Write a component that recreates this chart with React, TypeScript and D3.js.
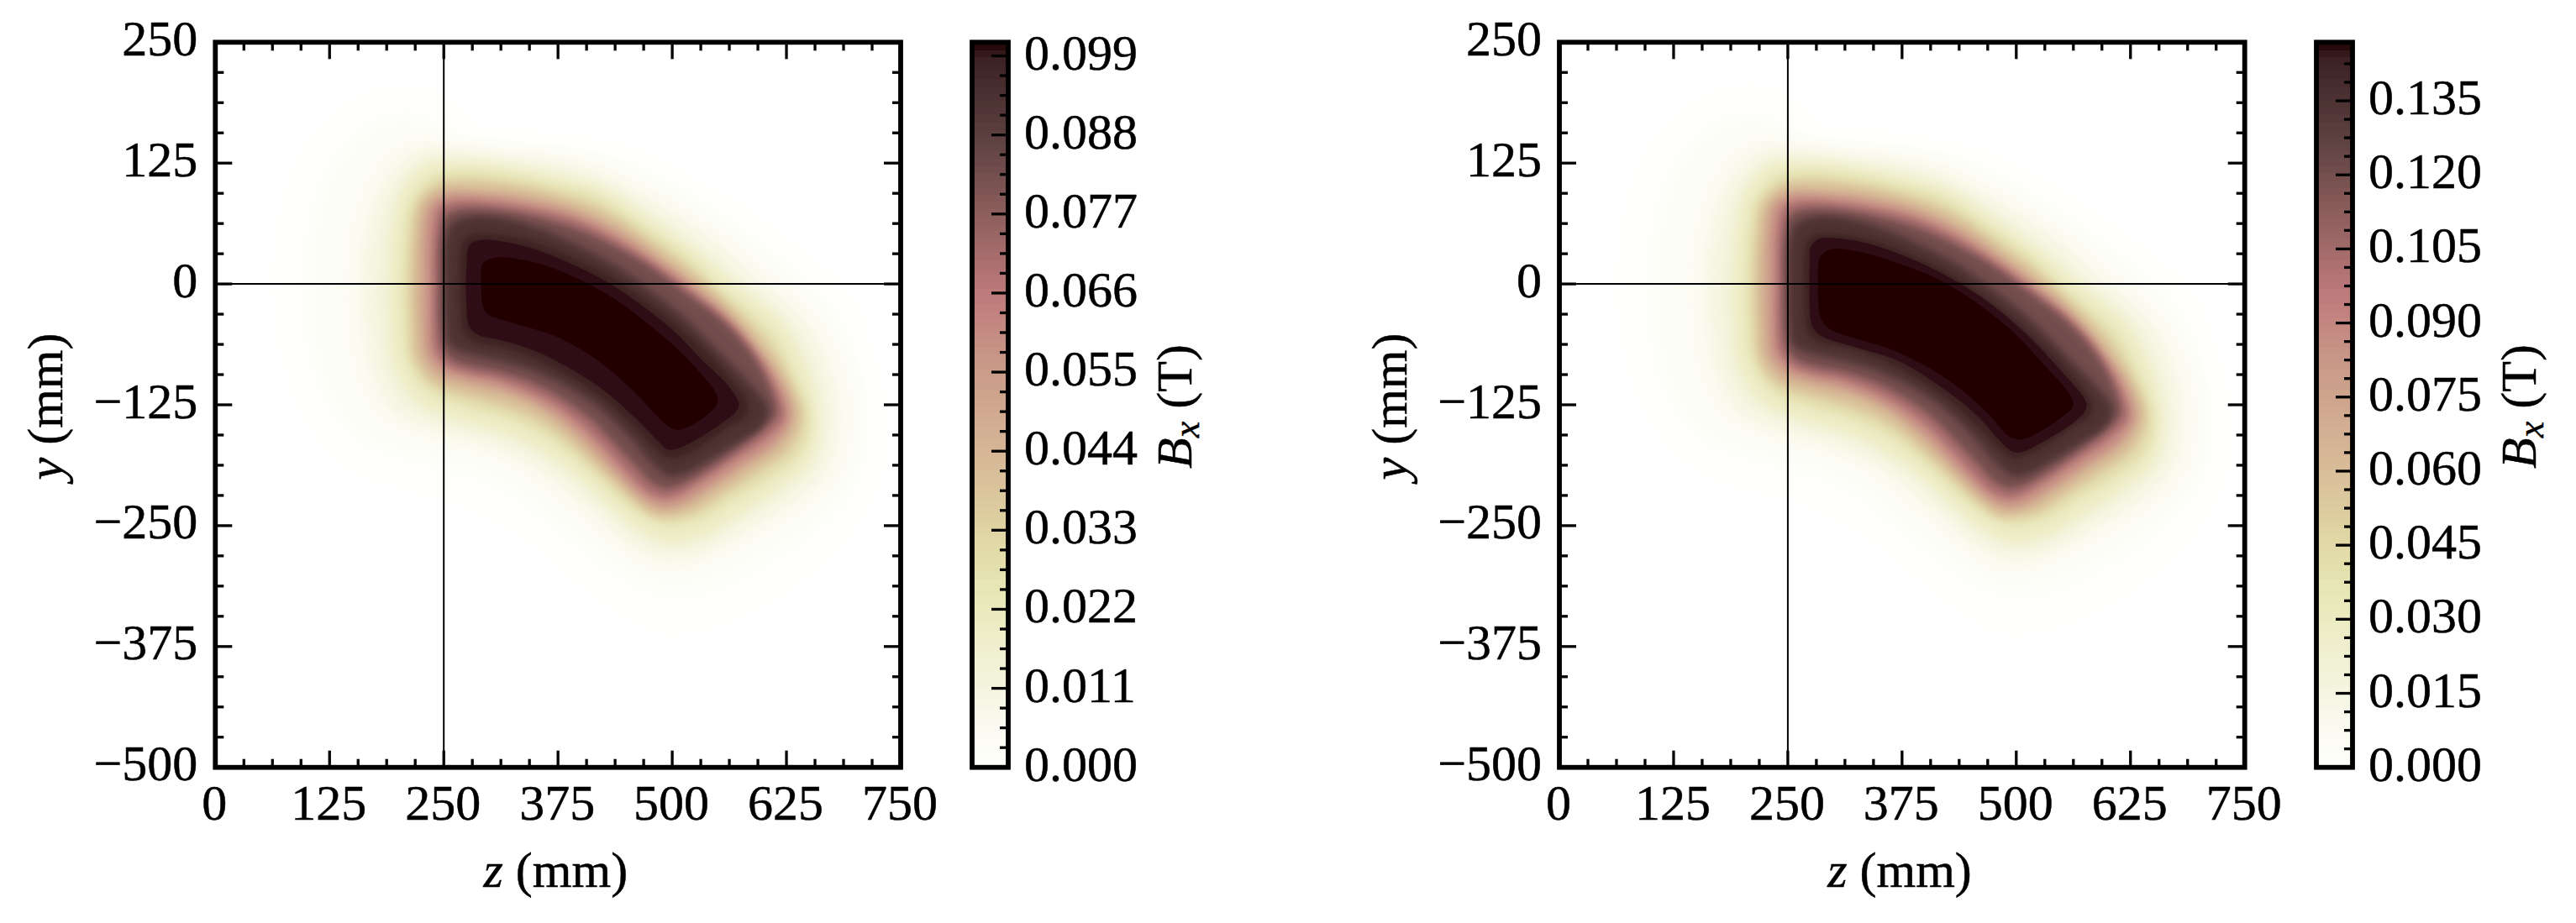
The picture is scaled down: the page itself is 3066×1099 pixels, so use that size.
import { useEffect, useRef } from 'react';
import * as d3 from 'd3';

type Pt = [number, number];

const zTicks = [0, 125, 250, 375, 500, 625, 750];
const yTicks = [-500, -375, -250, -125, 0, 125, 250];
const leftBarTicks = [0, 0.011, 0.022, 0.033, 0.044, 0.055, 0.066, 0.077, 0.088, 0.099];
const rightBarTicks = [0, 0.015, 0.03, 0.045, 0.06, 0.075, 0.09, 0.105, 0.12, 0.135];
const leftBarMax = 0.1009;
const rightBarMax = 0.14686;

// colour map
const cmapStops = [0, 0.05, 0.11, 0.18, 0.25, 0.33, 0.44, 0.55, 0.65, 0.76, 0.87, 0.95, 0.98, 0.99, 1];
const cmapColors = ['#fffffc', '#fbfbf2', '#f4f4e0', '#eeeeca', '#e6e6b4', '#dfd3a2', '#d6b596', '#c99b88', '#c07a7c', '#8e5f5d', '#5c4040', '#452a2b', '#3a2022', '#2e1012', '#240405'];

// iso-lines of the field (z mm, y mm). Level = fraction of colour range
const ring005: Pt[] = [[74,1],[80,-55],[100,-120],[150,-180],[220,-205],[290,-225],[340,-250],[385,-285],[430,-320],[490,-352],[540,-345],[600,-320],[670,-270],[715,-205],[724,-135],[710,-78],[685,-15],[640,22],[585,62],[520,100],[460,128],[400,140],[335,148],[280,152],[240,190],[175,190],[110,140],[80,60]];
const ring015: Pt[] = [[105,1],[108,-50],[122,-105],[160,-155],[220,-175],[280,-190],[325,-208],[360,-235],[395,-262],[425,-282],[460,-300],[500,-310],[530,-308],[585,-285],[650,-250],[697,-200],[707,-132],[697,-78],[670,-25],[625,15],[572,55],[510,95],[450,122],[395,135],[330,142],[275,147],[200,170],[140,130],[112,55]];
const ring04: Pt[] = [[144,1],[147,-45],[157,-95],[185,-140],[240,-160],[290,-173],[330,-190],[362,-212],[395,-236],[425,-260],[455,-283],[495,-298],[543,-282],[590,-262],[640,-235],[685,-195],[696,-132],[685,-80],[655,-30],[610,8],[560,48],[500,85],[442,115],[390,130],[328,137],[272,142],[215,148],[170,110],[150,52]];
const ring08: Pt[] = [[166,1],[168,-43],[176,-88],[200,-130],[250,-152],[295,-163],[335,-178],[368,-197],[400,-221],[428,-245],[458,-268],[495,-282],[535,-276],[580,-252],[625,-226],[665,-192],[677,-135],[666,-85],[640,-38],[590,2],[545,40],[490,75],[435,105],[385,122],[325,130],[270,136],[222,135],[188,100],[170,50]];
const ring15: Pt[] = [[189,1],[190,-43],[196,-86],[220,-122],[262,-140],[300,-150],[340,-165],[372,-183],[405,-207],[432,-231],[460,-253],[495,-268],[535,-260],[575,-238],[620,-210],[652,-182],[660,-138],[650,-92],[622,-42],[570,0],[528,33],[478,66],[428,97],[378,111],[322,122],[268,127],[228,122],[203,95],[192,48]];
const ring25: Pt[] = [[206,1],[207,-43],[212,-80],[233,-109],[268,-124],[307,-134],[346,-148],[378,-167],[410,-192],[436,-215],[462,-235],[494,-248],[530,-242],[565,-222],[607,-199],[640,-174],[650,-138],[635,-97],[605,-48],[552,-5],[515,28],[468,59],[417,89],[372,101],[320,111],[268,115],[239,110],[215,85],[208,47]];
const ring35: Pt[] = [[214,1],[215,-43],[219,-78],[238,-102],[271,-114],[307,-123],[342,-135],[373,-152],[405,-178],[431,-201],[455,-222],[478,-239],[491,-241],[522,-236],[553,-218],[592,-195],[628,-170],[642,-138],[630,-103],[602,-60],[558,-18],[519,15],[475,45],[430,73],[383,90],[330,101],[278,106],[246,103],[223,84],[216,48]];
const ring45: Pt[] = [[222,1],[223,-43],[227,-75],[243,-95],[275,-105],[307,-112],[339,-122],[368,-138],[401,-164],[427,-188],[449,-209],[468,-225],[489,-234],[514,-230],[543,-214],[578,-192],[617,-167],[634,-139],[626,-109],[600,-72],[565,-32],[524,1],[482,31],[442,57],[394,78],[339,91],[288,96],[252,96],[231,83],[224,50]];
const ring55: Pt[] = [[231,1],[231,-43],[234,-71],[248,-88],[275,-98],[307,-105],[339,-116],[370,-132],[402,-156],[428,-181],[450,-203],[470,-220],[488,-228],[509,-225],[537,-210],[572,-188],[611,-163],[628,-138],[620,-109],[596,-72],[562,-35],[521,-2],[478,28],[439,52],[391,73],[339,85],[289,91],[257,91],[238,81],[231,50]];
const ring65: Pt[] = [[238,1],[238,-43],[241,-69],[252,-83],[275,-92],[307,-98],[339,-109],[372,-125],[404,-148],[430,-173],[452,-196],[472,-214],[488,-221],[504,-219],[530,-205],[565,-183],[604,-158],[622,-138],[614,-109],[591,-72],[559,-37],[517,-5],[475,24],[436,47],[388,68],[339,79],[291,85],[262,85],[246,79],[239,50],[238,27]];
const ring72: Pt[] = [[245,1],[245,-43],[249,-66],[258,-78],[277,-85],[308,-91],[342,-101],[376,-117],[410,-140],[436,-165],[458,-187],[476,-205],[491,-212],[505,-210],[532,-196],[565,-175],[600,-150],[614,-134],[607,-107],[586,-71],[555,-38],[515,-9],[473,20],[434,41],[388,60],[339,72],[291,78],[265,77],[252,71],[246,48],[245,27]];
const ring80: Pt[] = [[251,1],[252,44],[260,63],[285,70],[314,68],[352,58],[394,41],[436,20],[478,-8],[517,-38],[556,-75],[585,-103],[605,-130],[598,-147],[572,-164],[539,-183],[514,-196],[496,-198],[478,-185],[452,-157],[420,-128],[385,-106],[346,-89],[310,-79],[278,-72],[257,-63],[252,-37]];
const ring90: Pt[] = [[267.5,-1],[269,38.5],[275,48.6],[288,52],[314,50.7],[349,43.7],[388,29],[430,9.5],[468,-15],[507,-44],[543,-76],[570,-105],[583,-124],[580,-137],[562,-148],[530,-169],[507,-179],[496,-180],[483,-171.5],[455.5,-145.5],[423,-118],[388,-96],[349,-77],[314,-66],[285,-60],[272,-50],[268,-28]];

// two inner plateaus differ per panel
const leftRing95: Pt[] = [[278,40],[288,45],[314,44],[346,37],[385,22.6],[423,5],[462,-19],[501,-48],[533,-79],[562,-106],[573,-124],[570,-132],[555.5,-143],[526.5,-161],[507,-170],[496,-171.5],[486,-164],[459,-138],[426.5,-111],[391,-89],[352,-70],[314,-58.5],[288,-53],[278,-44],[275,-25],[275,21]];
const leftRing100: Pt[] = [[292.6,21],[307,27.5],[333,25.5],[365,18],[404,2.3],[436,-15],[468,-37],[501,-63],[526.5,-87.5],[549,-115],[549,-124],[539,-135],[517,-148],[504,-151],[493,-145.5],[468,-121],[436,-92],[404,-70],[372,-54],[339,-44],[307,-35],[297.5,-31],[292.6,-22],[291,1]];
const rightRing95: Pt[] = [[275,38.5],[284,46.6],[294,47.8],[329.5,43.7],[379,28.4],[424.5,8],[470,-19],[512,-53],[548,-89],[576,-121],[576,-129.5],[567,-140],[530,-163],[505,-174],[495,-173],[481,-161],[456,-135],[417,-106],[372,-80],[326,-66],[287,-54],[277,-44],[274,-25],[274,21]];
const rightRing100: Pt[] = [[285.5,28],[298,36],[329.5,33],[372,21],[414,5],[456,-19],[498,-51],[530,-83],[560,-116.5],[562,-127],[551,-137],[519.5,-156],[504,-161],[491,-157],[470,-135],[442,-111],[403,-86],[361,-67],[322,-56],[294,-45.5],[285.5,-34],[283,1]];

const sharedRings = [ring005, ring015, ring04, ring08, ring15, ring25, ring35, ring45, ring55, ring65, ring72, ring80, ring90];
// fill between a ring and the next one inside it
const sharedFills = [0.01, 0.027, 0.06, 0.115, 0.2, 0.3, 0.4, 0.5, 0.6, 0.7, 0.82, 0.92, 0.975];
const ringBlurs = [16, 14, 11, 9, 7, 6, 4.5, 4.5, 4, 3.5, 4, 5, 3];
const innerFills = [0.99, 1];

const width = 3066;
const height = 1099;
const top = 50.3;
const bottom = 913.7;
const spine = 5.8;

const App = () => {
  const svgRef = useRef<SVGSVGElement | null>(null);

  useEffect(() => {
    const svg = d3.select(svgRef.current);
    svg.selectAll('*').remove();

    const color = d3.scaleLinear<string>().domain(cmapStops).range(cmapColors).interpolate(d3.interpolateRgb);
    const defs = svg.append('defs');
    [...new Set(ringBlurs), 0.7].forEach(s => {
      defs.append('filter').attr('id', `blur${String(s).replace('.', '_')}`)
        .attr('x', '-25%').attr('y', '-25%').attr('width', '150%').attr('height', '150%')
        .append('feGaussianBlur').attr('stdDeviation', s);
    });
    const blurUrl = (s: number) => `url(#blur${String(s).replace('.', '_')})`;

    const drawPanel = (id: string, left: number, barLeft: number, barTicks: number[], barMax: number, ring95: Pt[], ring100: Pt[], barStep: number) => {
      const x = d3.scaleLinear().domain([0, 750]).range([left, left + 815.7]);
      const y = d3.scaleLinear().domain([-500, 250]).range([bottom, top]);
      const g = svg.append('g');
      defs.append('clipPath').attr('id', id).append('rect')
        .attr('x', left).attr('y', top).attr('width', 815.7).attr('height', bottom - top);
      const field = g.append('g').attr('clip-path', `url(#${id})`);
      const line = d3.line<Pt>().x(d => x(d[0])).y(d => y(d[1])).curve(d3.curveCatmullRomClosed.alpha(0.5));

      sharedRings.forEach((r, i) => field.append('path').attr('d', line(r))
        .attr('fill', color(sharedFills[i])).attr('filter', blurUrl(ringBlurs[i])));
      [ring95, ring100].forEach((r, i) => field.append('path').attr('d', line(r))
        .attr('fill', color(innerFills[i])).attr('filter', blurUrl(0.7)));

      // crosshair at z = 250, y = 0
      g.append('line').attr('x1', x(250)).attr('x2', x(250)).attr('y1', top).attr('y2', bottom).attr('stroke', '#000').attr('stroke-width', 2);
      g.append('line').attr('x1', left).attr('x2', left + 815.7).attr('y1', y(0)).attr('y2', y(0)).attr('stroke', '#000').attr('stroke-width', 2);

      // ticks on all four sides, pointing in
      const zMinor = d3.range(0, 750.1, 31.25);
      const yMinor = d3.range(-500, 250.1, 31.25);
      zMinor.forEach(v => {
        const len = zTicks.includes(v) ? 20 : 10;
        g.append('line').attr('x1', x(v)).attr('x2', x(v)).attr('y1', bottom).attr('y2', bottom - len).attr('stroke', '#000').attr('stroke-width', 3.3);
        g.append('line').attr('x1', x(v)).attr('x2', x(v)).attr('y1', top).attr('y2', top + len).attr('stroke', '#000').attr('stroke-width', 3.3);
      });
      yMinor.forEach(v => {
        const len = yTicks.includes(v) ? 20 : 10;
        g.append('line').attr('x1', left).attr('x2', left + len).attr('y1', y(v)).attr('y2', y(v)).attr('stroke', '#000').attr('stroke-width', 3.3);
        g.append('line').attr('x1', left + 815.7).attr('x2', left + 815.7 - len).attr('y1', y(v)).attr('y2', y(v)).attr('stroke', '#000').attr('stroke-width', 3.3);
      });
      g.append('rect').attr('x', left).attr('y', top).attr('width', 815.7).attr('height', bottom - top)
        .attr('fill', 'none').attr('stroke', '#000').attr('stroke-width', spine);

      const font = '"Liberation Serif", serif';
      const labelSize = 60;
      const text = (tx: number, ty: number, s: string, anchor: string) =>
        g.append('text').attr('x', tx).attr('y', ty).attr('text-anchor', anchor)
          .attr('font-family', font).attr('font-size', labelSize).attr('fill', '#000')
          .attr('stroke', '#000').attr('stroke-width', 0.5).text(s);

      zTicks.forEach(v => text(x(v) - 1, 976, String(v), 'middle'));
      yTicks.forEach(v => text(left - 21, y(v) + 15.5, String(v).replace('-', '\u2212'), 'end'));

      const zLabel = g.append('text').attr('x', left + 405).attr('y', 1056).attr('text-anchor', 'middle')
        .attr('font-family', font).attr('font-size', labelSize).attr('stroke', '#000').attr('stroke-width', 0.5);
      zLabel.append('tspan').attr('font-style', 'italic').text('z');
      zLabel.append('tspan').text(' (mm)');
      const yLabel = g.append('text').attr('transform', `translate(${left - 182},484) rotate(-90)`).attr('text-anchor', 'middle')
        .attr('font-family', font).attr('font-size', labelSize).attr('stroke', '#000').attr('stroke-width', 0.5);
      yLabel.append('tspan').attr('font-style', 'italic').text('y');
      yLabel.append('tspan').text(' (mm)');

      // colour bar, stepped like the filled contours
      const barW = 43;
      const by = d3.scaleLinear().domain([0, barMax]).range([bottom, top]);
      const steps = 100;
      d3.range(steps).forEach(i => {
        const v0 = (i / steps) * barMax;
        const v1 = ((i + 1) / steps) * barMax;
        g.append('rect').attr('x', barLeft).attr('width', barW).attr('y', by(v1)).attr('height', by(v0) - by(v1) + 0.6)
          .attr('fill', color((i + 0.5) / steps)).attr('shape-rendering', 'crispEdges');
      });
      d3.range(0, barMax, barStep / 4).forEach(v => {
        if (by(v) < top + 6) return;
        const major = barTicks.some(t => Math.abs(t - v) < 1e-6);
        g.append('line').attr('x1', barLeft + barW).attr('x2', barLeft + barW - (major ? 20 : 10))
          .attr('y1', by(v)).attr('y2', by(v)).attr('stroke', '#000').attr('stroke-width', 3.3);
      });
      g.append('rect').attr('x', barLeft).attr('y', top).attr('width', barW).attr('height', bottom - top)
        .attr('fill', 'none').attr('stroke', '#000').attr('stroke-width', spine);
      barTicks.forEach(v => text(barLeft + 62, by(v) + 16, v.toFixed(3), 'start'));

      const barLabel = g.append('text').attr('transform', `translate(${barLeft + 261},484) rotate(-90)`).attr('text-anchor', 'middle')
        .attr('font-family', font).attr('font-size', labelSize).attr('stroke', '#000').attr('stroke-width', 0.5);
      barLabel.append('tspan').attr('font-style', 'italic').text('B');
      barLabel.append('tspan').attr('font-style', 'italic').attr('font-size', 44).attr('dy', 9).text('x');
      barLabel.append('tspan').attr('dy', -9).text(' (T)');
    };

    drawPanel('clipL', 256.3, 1157, leftBarTicks, leftBarMax, leftRing95, leftRing100, 0.011);
    drawPanel('clipR', 1856, 2757, rightBarTicks, rightBarMax, rightRing95, rightRing100, 0.015);
  }, []);

  return <svg ref={svgRef} width={width} height={height} style={{ position: 'absolute', left: 0, top: 0, background: '#fff' }} />;
};

export default App;
